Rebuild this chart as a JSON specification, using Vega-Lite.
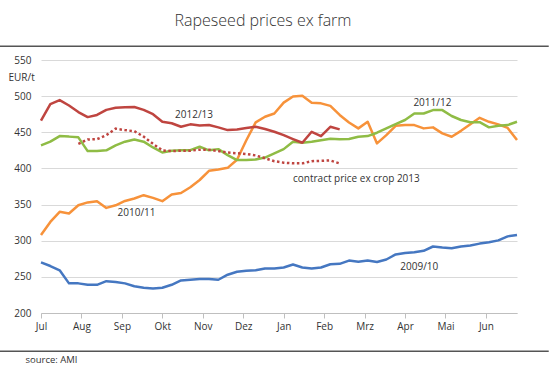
{
"$schema": "https://vega.github.io/schema/vega-lite/v6.json",
"width": 476, "height": 253,
"autosize": "none",
"padding": {"left": 41, "top": 60, "right": 32, "bottom": 63},
"background": "white",
"title": {"text": "Rapeseed prices ex farm", "font": "Open Sans", "fontSize": 16, "fontWeight": 300, "color": "#333333", "anchor": "middle", "offset": 16, "dx": -16},
"config": {"view": {"stroke": null}, "font": "Open Sans",
 "axisY": {"grid": true, "gridColor": "#d9d9d9", "gridWidth": 1.2, "domain": false, "ticks": false, "labelPadding": 10, "labelFontSize": 10, "labelColor": "#333333", "labelOverlap": false, "labelFlush": false,
    "titleAngle": 0, "titleAlign": "left", "titleBaseline": "middle", "titleX": -33, "titleY": 17, "titleFontWeight": "normal", "titleFontSize": 10, "titleColor": "#333333"},
 "axisX": {"labelExpr": "['Jul','Aug','Sep','Okt','Nov','Dez','Jan','Feb','Mrz','Apr','Mai','Jun'][round(datum.value*12/52)]",
    "grid": false, "domainColor": "#bfbfbf", "tickColor": "#bfbfbf", "tickSize": 5, "labelFontSize": 10, "labelColor": "#333333", "labelPadding": 3, "labelFlush": false, "labelOverlap": false,
    "titleFontSize": 9.5, "titleFontWeight": "normal", "titleColor": "#333333", "titleAnchor": "start", "titleAlign": "left", "titleBaseline": "middle", "titleX": -16, "titleY": 46}
},
"datasets": {
"prices": [
{"series":"2009/10","week":0,"price":270},{"series":"2009/10","week":1,"price":265},{"series":"2009/10","week":2,"price":259},{"series":"2009/10","week":3,"price":241},{"series":"2009/10","week":4,"price":241},{"series":"2009/10","week":5,"price":239},{"series":"2009/10","week":6,"price":239},{"series":"2009/10","week":7,"price":244},{"series":"2009/10","week":8,"price":243},{"series":"2009/10","week":9,"price":241},{"series":"2009/10","week":10,"price":237},{"series":"2009/10","week":11,"price":235},{"series":"2009/10","week":12,"price":234},{"series":"2009/10","week":13,"price":235},{"series":"2009/10","week":14,"price":239},{"series":"2009/10","week":15,"price":245},{"series":"2009/10","week":16,"price":246},{"series":"2009/10","week":17,"price":247},{"series":"2009/10","week":18,"price":247},{"series":"2009/10","week":19,"price":246},{"series":"2009/10","week":20,"price":253},{"series":"2009/10","week":21,"price":257},{"series":"2009/10","week":22,"price":258.5},{"series":"2009/10","week":23,"price":259},{"series":"2009/10","week":24,"price":261.5},{"series":"2009/10","week":25,"price":261.5},{"series":"2009/10","week":26,"price":263},{"series":"2009/10","week":27,"price":267},{"series":"2009/10","week":28,"price":263},{"series":"2009/10","week":29,"price":261.5},{"series":"2009/10","week":30,"price":263},{"series":"2009/10","week":31,"price":267.5},{"series":"2009/10","week":32,"price":268},{"series":"2009/10","week":33,"price":272.5},{"series":"2009/10","week":34,"price":271},{"series":"2009/10","week":35,"price":272.5},{"series":"2009/10","week":36,"price":270.5},{"series":"2009/10","week":37,"price":274},{"series":"2009/10","week":38,"price":281},{"series":"2009/10","week":39,"price":283},{"series":"2009/10","week":40,"price":284},{"series":"2009/10","week":41,"price":286},{"series":"2009/10","week":42,"price":292},{"series":"2009/10","week":43,"price":290.5},{"series":"2009/10","week":44,"price":289.5},{"series":"2009/10","week":45,"price":292},{"series":"2009/10","week":46,"price":293.5},{"series":"2009/10","week":47,"price":296},{"series":"2009/10","week":48,"price":298},{"series":"2009/10","week":49,"price":300.5},{"series":"2009/10","week":50,"price":306},{"series":"2009/10","week":51,"price":308},
{"series":"2010/11","week":0,"price":308},{"series":"2010/11","week":1,"price":326},{"series":"2010/11","week":2,"price":340},{"series":"2010/11","week":3,"price":337.7},{"series":"2010/11","week":4,"price":349},{"series":"2010/11","week":5,"price":353},{"series":"2010/11","week":6,"price":354.7},{"series":"2010/11","week":7,"price":345.4},{"series":"2010/11","week":8,"price":349},{"series":"2010/11","week":9,"price":355},{"series":"2010/11","week":10,"price":358.4},{"series":"2010/11","week":11,"price":363},{"series":"2010/11","week":12,"price":359.3},{"series":"2010/11","week":13,"price":354.7},{"series":"2010/11","week":14,"price":364},{"series":"2010/11","week":15,"price":366},{"series":"2010/11","week":16,"price":374},{"series":"2010/11","week":17,"price":384},{"series":"2010/11","week":18,"price":396.7},{"series":"2010/11","week":19,"price":398.6},{"series":"2010/11","week":20,"price":400.8},{"series":"2010/11","week":21,"price":412},{"series":"2010/11","week":22,"price":439},{"series":"2010/11","week":23,"price":463.7},{"series":"2010/11","week":24,"price":471.5},{"series":"2010/11","week":25,"price":476},{"series":"2010/11","week":26,"price":491},{"series":"2010/11","week":27,"price":499.5},{"series":"2010/11","week":28,"price":500.5},{"series":"2010/11","week":29,"price":491},{"series":"2010/11","week":30,"price":490},{"series":"2010/11","week":31,"price":486.5},{"series":"2010/11","week":32,"price":474},{"series":"2010/11","week":33,"price":463.5},{"series":"2010/11","week":34,"price":455.4},{"series":"2010/11","week":35,"price":464.5},{"series":"2010/11","week":36,"price":434.6},{"series":"2010/11","week":37,"price":446},{"series":"2010/11","week":38,"price":459},{"series":"2010/11","week":39,"price":460},{"series":"2010/11","week":40,"price":460},{"series":"2010/11","week":41,"price":455.4},{"series":"2010/11","week":42,"price":456.8},{"series":"2010/11","week":43,"price":448.5},{"series":"2010/11","week":44,"price":443.8},{"series":"2010/11","week":45,"price":452},{"series":"2010/11","week":46,"price":461},{"series":"2010/11","week":47,"price":470},{"series":"2010/11","week":48,"price":464.5},{"series":"2010/11","week":49,"price":461},{"series":"2010/11","week":50,"price":456},{"series":"2010/11","week":51,"price":439.2},
{"series":"2011/12","week":0,"price":432},{"series":"2011/12","week":1,"price":437},{"series":"2011/12","week":2,"price":444.7},{"series":"2011/12","week":3,"price":444},{"series":"2011/12","week":4,"price":443},{"series":"2011/12","week":5,"price":424},{"series":"2011/12","week":6,"price":424},{"series":"2011/12","week":7,"price":425},{"series":"2011/12","week":8,"price":432},{"series":"2011/12","week":9,"price":437},{"series":"2011/12","week":10,"price":440},{"series":"2011/12","week":11,"price":437},{"series":"2011/12","week":12,"price":429},{"series":"2011/12","week":13,"price":422},{"series":"2011/12","week":14,"price":424.4},{"series":"2011/12","week":15,"price":425.3},{"series":"2011/12","week":16,"price":425.3},{"series":"2011/12","week":17,"price":430},{"series":"2011/12","week":18,"price":425},{"series":"2011/12","week":19,"price":426.7},{"series":"2011/12","week":20,"price":418.4},{"series":"2011/12","week":21,"price":411.5},{"series":"2011/12","week":22,"price":411.5},{"series":"2011/12","week":23,"price":412.4},{"series":"2011/12","week":24,"price":415},{"series":"2011/12","week":25,"price":420.8},{"series":"2011/12","week":26,"price":426.7},{"series":"2011/12","week":27,"price":436.8},{"series":"2011/12","week":28,"price":435.5},{"series":"2011/12","week":29,"price":436.8},{"series":"2011/12","week":30,"price":439},{"series":"2011/12","week":31,"price":441},{"series":"2011/12","week":32,"price":440.5},{"series":"2011/12","week":33,"price":440.7},{"series":"2011/12","week":34,"price":443.8},{"series":"2011/12","week":35,"price":444.7},{"series":"2011/12","week":36,"price":449.4},{"series":"2011/12","week":37,"price":455.4},{"series":"2011/12","week":38,"price":461.4},{"series":"2011/12","week":39,"price":467},{"series":"2011/12","week":40,"price":476},{"series":"2011/12","week":41,"price":476},{"series":"2011/12","week":42,"price":480.7},{"series":"2011/12","week":43,"price":480.7},{"series":"2011/12","week":44,"price":472.5},{"series":"2011/12","week":45,"price":467},{"series":"2011/12","week":46,"price":464},{"series":"2011/12","week":47,"price":464},{"series":"2011/12","week":48,"price":456.8},{"series":"2011/12","week":49,"price":459},{"series":"2011/12","week":50,"price":460},{"series":"2011/12","week":51,"price":464.5},
{"series":"2012/13","week":0,"price":466},{"series":"2012/13","week":1,"price":489},{"series":"2012/13","week":2,"price":494.5},{"series":"2012/13","week":3,"price":487},{"series":"2012/13","week":4,"price":478},{"series":"2012/13","week":5,"price":471},{"series":"2012/13","week":6,"price":474},{"series":"2012/13","week":7,"price":481},{"series":"2012/13","week":8,"price":484},{"series":"2012/13","week":9,"price":484.5},{"series":"2012/13","week":10,"price":485},{"series":"2012/13","week":11,"price":481},{"series":"2012/13","week":12,"price":475},{"series":"2012/13","week":13,"price":464.5},{"series":"2012/13","week":14,"price":462.5},{"series":"2012/13","week":15,"price":457.6},{"series":"2012/13","week":16,"price":461},{"series":"2012/13","week":17,"price":459.5},{"series":"2012/13","week":18,"price":460},{"series":"2012/13","week":19,"price":456.8},{"series":"2012/13","week":20,"price":453},{"series":"2012/13","week":21,"price":454},{"series":"2012/13","week":22,"price":456},{"series":"2012/13","week":23,"price":457.6},{"series":"2012/13","week":24,"price":454.5},{"series":"2012/13","week":25,"price":450.7},{"series":"2012/13","week":26,"price":446},{"series":"2012/13","week":27,"price":440.6},{"series":"2012/13","week":28,"price":435.5},{"series":"2012/13","week":29,"price":450.7},{"series":"2012/13","week":30,"price":444.7},{"series":"2012/13","week":31,"price":457.6},{"series":"2012/13","week":32,"price":454},
{"series":"contract","week":4,"price":434},{"series":"contract","week":5,"price":440},{"series":"contract","week":6,"price":440.5},{"series":"contract","week":7,"price":446},{"series":"contract","week":8,"price":455},{"series":"contract","week":9,"price":453},{"series":"contract","week":10,"price":451.5},{"series":"contract","week":11,"price":444},{"series":"contract","week":12,"price":434},{"series":"contract","week":13,"price":425},{"series":"contract","week":14,"price":424},{"series":"contract","week":15,"price":424.5},{"series":"contract","week":16,"price":424.5},{"series":"contract","week":17,"price":426},{"series":"contract","week":18,"price":426},{"series":"contract","week":19,"price":424},{"series":"contract","week":20,"price":422},{"series":"contract","week":21,"price":421},{"series":"contract","week":22,"price":420},{"series":"contract","week":23,"price":418},{"series":"contract","week":24,"price":414},{"series":"contract","week":25,"price":410},{"series":"contract","week":26,"price":408},{"series":"contract","week":27,"price":407},{"series":"contract","week":28,"price":407},{"series":"contract","week":29,"price":410},{"series":"contract","week":30,"price":410.5},{"series":"contract","week":31,"price":411},{"series":"contract","week":32,"price":407}
],
"labels": [
{"label":"2012/13","week":14.36,"price":474},
{"label":"2011/12","week":39.9,"price":490},
{"label":"2010/11","week":8.2,"price":337.7},
{"label":"2009/10","week":38.5,"price":263.7},
{"label":"contract price ex crop 2013","week":27.0,"price":386}
]
},
"layer": [
{"data": {"name": "prices"},
 "transform": [{"filter": "datum.series != 'contract'"}],
 "mark": {"type": "line", "strokeWidth": 2.5, "strokeJoin": "round"},
 "encoding": {
  "x": {"field": "week", "type": "quantitative", "scale": {"domain": [0, 51], "nice": false, "zero": false}, "axis": {"title": "source: AMI", "values": [0, 4.3333, 8.6667, 13, 17.3333, 21.6667, 26, 30.3333, 34.6667, 39, 43.3333, 47.6667]}},
  "y": {"field": "price", "type": "quantitative", "scale": {"domain": [200, 550], "nice": false, "zero": false}, "axis": {"title": "EUR/t", "values": [200, 250, 300, 350, 400, 450, 500, 550]}},
  "color": {"field": "series", "type": "nominal", "scale": {"domain": ["2009/10", "2010/11", "2011/12", "2012/13"], "range": ["#4577c1", "#f7923a", "#8fbc45", "#bf4540"]}, "legend": null}
 }},
{"data": {"name": "prices"},
 "transform": [{"filter": "datum.series == 'contract'"}],
 "mark": {"type": "line", "strokeWidth": 2.5, "strokeDash": [2.5, 2.5], "color": "#bf4540"},
 "encoding": {"x": {"field": "week", "type": "quantitative", "axis": {"title": "source: AMI", "values": [0, 4.3333, 8.6667, 13, 17.3333, 21.6667, 26, 30.3333, 34.6667, 39, 43.3333, 47.6667]}}, "y": {"field": "price", "type": "quantitative", "axis": {"title": "EUR/t", "values": [200, 250, 300, 350, 400, 450, 500, 550]}}}},
{"data": {"name": "labels"},
 "mark": {"type": "text", "align": "left", "baseline": "middle", "fontSize": 10, "color": "#333333", "font": "Open Sans"},
 "encoding": {"x": {"field": "week", "type": "quantitative", "axis": {"title": "source: AMI", "values": [0, 4.3333, 8.6667, 13, 17.3333, 21.6667, 26, 30.3333, 34.6667, 39, 43.3333, 47.6667]}}, "y": {"field": "price", "type": "quantitative", "axis": {"title": "EUR/t", "values": [200, 250, 300, 350, 400, 450, 500, 550]}}, "text": {"field": "label"}}},
{"data": {"values": [{}]},
 "mark": {"type": "rule", "color": "#555555", "strokeWidth": 1.6},
 "encoding": {"x": {"datum": -4.4, "axis": {"title": "source: AMI", "values": [0, 4.3333, 8.6667, 13, 17.3333, 21.6667, 26, 30.3333, 34.6667, 39, 43.3333, 47.6667]}}, "x2": {"datum": 54.4}, "y": {"datum": 569, "axis": {"title": "EUR/t", "values": [200, 250, 300, 350, 400, 450, 500, 550]}}}},
{"data": {"values": [{}]},
 "mark": {"type": "rule", "color": "#555555", "strokeWidth": 1.6},
 "encoding": {"x": {"datum": -4.4, "axis": {"title": "source: AMI", "values": [0, 4.3333, 8.6667, 13, 17.3333, 21.6667, 26, 30.3333, 34.6667, 39, 43.3333, 47.6667]}}, "x2": {"datum": 54.4}, "y": {"datum": 147, "axis": {"title": "EUR/t", "values": [200, 250, 300, 350, 400, 450, 500, 550]}}}}
]
}
